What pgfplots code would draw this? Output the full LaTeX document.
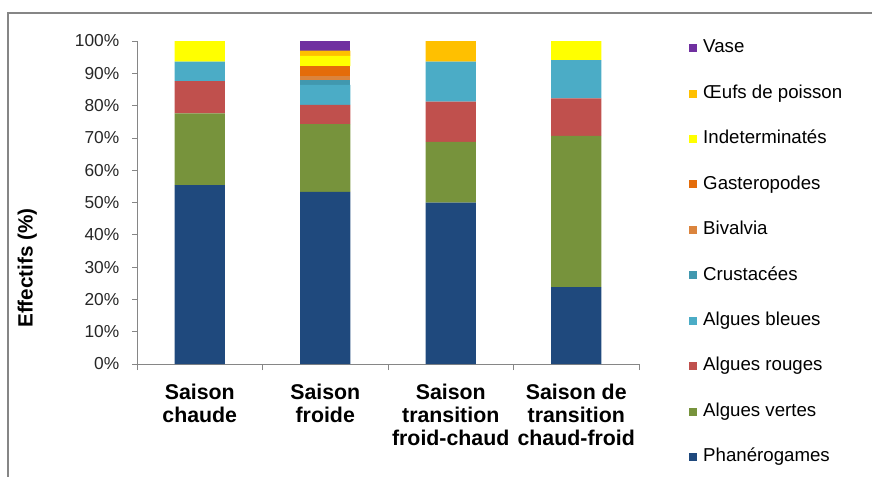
\documentclass[border=0pt]{standalone}
\usepackage{pgfplots}
\pgfplotsset{compat=1.18}
\usepackage{fontspec}
\setmainfont{Liberation Sans}
\definecolor{cPhan}{HTML}{1F497D}
\definecolor{cVert}{HTML}{77933C}
\definecolor{cRoug}{HTML}{C0504D}
\definecolor{cBleu}{HTML}{4BACC6}
\definecolor{cCrus}{HTML}{4198AF}
\definecolor{cBiva}{HTML}{DB843D}
\definecolor{cGast}{HTML}{E46C0A}
\definecolor{cInde}{HTML}{FFFF00}
\definecolor{cOeuf}{HTML}{FFC000}
\definecolor{cVase}{HTML}{7030A0}
\definecolor{axgray}{HTML}{868686}
\begin{document}
\begin{tikzpicture}
\useasboundingbox (0,0) rectangle (654pt,357pt);
\draw[axgray,line width=1.2pt] (6pt,-10pt) -- (6pt,347.25pt) -- (670pt,347.25pt);
\node[rotate=90,font=\bfseries\fontsize{15.5}{17}\selectfont] at (20.5pt,156pt) {Effectifs (\%)};
\begin{axis}[
  at={(102.75pt,84pt)}, anchor=south west,
  scale only axis, width=376.5pt, height=242.25pt,
  ybar stacked, bar width=0.4,
  xmin=-0.5, xmax=3.5, ymin=0, ymax=100,
  axis x line*=bottom, axis y line*=left,
  axis line style={axgray, line width=0.6pt},
  xtick={0,1,2,3},
  xticklabels={{Saison\\chaude},{Saison\\froide},{Saison\\transition\\froid-chaud},{Saison de\\transition\\chaud-froid}},
  major x tick style={draw=none},
  minor xtick={-0.5,0.5,1.5,2.5,3.5},
  minor tick length=4.5pt,
  minor x tick style={axgray, line width=0.6pt},
  ytick={0,10,...,100},
  yticklabels={0\%,10\%,20\%,30\%,40\%,50\%,60\%,70\%,80\%,90\%,100\%},
  major tick length=3.75pt,
  tick align=outside,
  y tick style={axgray, line width=0.6pt},
  yticklabel style={font=\fontsize{13}{15}\selectfont, text=black!85, xshift=-6pt},
  xticklabel style={font=\bfseries\fontsize{16}{17.25}\selectfont, align=center, anchor=north, yshift=-8pt},
  legend style={draw=none, fill=none, at={(1.0916,1.012)}, anchor=north west,
    font=\fontsize{14}{16}\selectfont,
    nodes={text height=9.5pt, text depth=2.5pt, inner sep=0pt, anchor=west},
    row sep=22.1pt, column sep=4.5pt},
  legend cell align=left,
  reverse legend,
  legend image code/.code={\fill[#1,draw=none] (0pt,-3pt) rectangle (6pt,3pt);},
  every axis plot/.append style={draw=none},
]
\addplot+[fill=cPhan] coordinates {(0,55.4) (1,53.3) (2,50.0) (3,23.8)};
\addplot+[fill=cVert] coordinates {(0,22.2) (1,21.0) (2,18.8) (3,46.8)};
\addplot+[fill=cRoug] coordinates {(0,10.0) (1,5.9) (2,12.4) (3,11.6)};
\addplot+[fill=cBleu] coordinates {(0,6.0) (1,6.2) (2,12.4) (3,11.9)};
\addplot+[fill=cCrus] coordinates {(0,0) (1,1.5) (2,0) (3,0)};
\addplot+[fill=cBiva] coordinates {(0,0) (1,1.3) (2,0) (3,0)};
\addplot+[fill=cGast] coordinates {(0,0) (1,3.0) (2,0) (3,0)};
\addplot+[fill=cInde] coordinates {(0,6.4) (1,3.2) (2,0) (3,5.9)};
\addplot+[fill=cOeuf] coordinates {(0,0) (1,1.6) (2,6.4) (3,0)};
\addplot+[fill=cVase] coordinates {(0,0) (1,3.0) (2,0) (3,0)};
\legend{Phanérogames,Algues vertes,Algues rouges,Algues bleues,Crustacées,Bivalvia,Gasteropodes,Indeterminatés,Œufs de poisson,Vase}
\end{axis}
\end{tikzpicture}
\end{document}
